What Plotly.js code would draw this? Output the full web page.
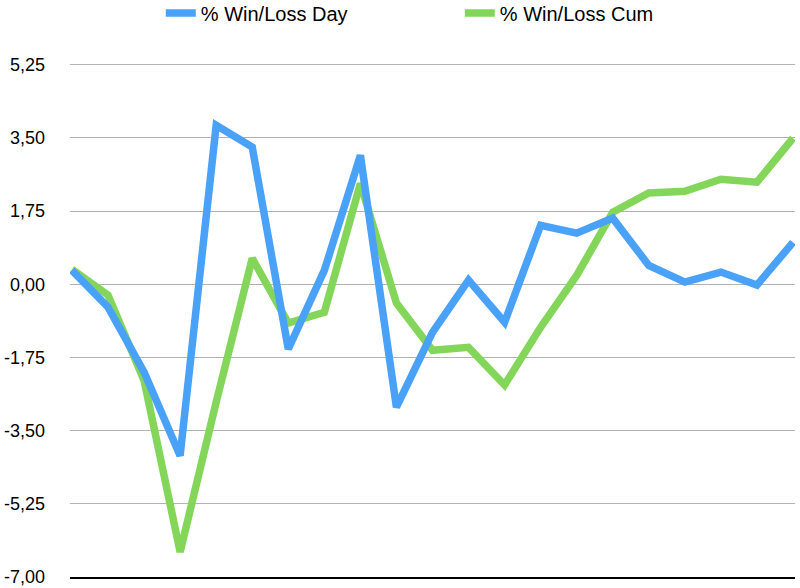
<!DOCTYPE html>
<html><head><meta charset="utf-8">
<script src="https://cdn.plot.ly/plotly-3.0.1.min.js"></script>
<style>html,body{margin:0;padding:0;background:#fff}</style>
</head><body><div id="chart" style="width:800px;height:588px"></div>
<script>
const days = [1,2,3,4,5,6,7,8,9,10,11,12,13,14,15,16,17,18,19,20,21];
const winLossDay = [0.33,-0.55,-2.1,-4.1,3.8,3.28,-1.55,0.33,3.08,-2.94,-1.15,0.1,-0.91,1.41,1.22,1.58,0.45,0.05,0.29,-0.02,1.0];
const winLossCum = [0.36,-0.26,-2.3,-6.4,-2.82,0.62,-0.93,-0.67,2.41,-0.45,-1.58,-1.51,-2.41,-1.03,0.21,1.72,2.18,2.22,2.51,2.44,3.49];
const tickVals = [-7,-5.25,-3.5,-1.75,0,1.75,3.5,5.25];
const tickText = ['-7,00','-5,25','-3,50','-1,75','0,00','1,75','3,50','5,25'];

const traces = [
  {x: days, y: winLossCum, name: '% Win/Loss Cum', type: 'scatter', mode: 'lines',
   line: {color: '#83d65a', width: 7.5}, legendrank: 2},
  {x: days, y: winLossDay, name: '% Win/Loss Day', type: 'scatter', mode: 'lines',
   line: {color: '#4aa1f8', width: 7.5}, legendrank: 1}
];
const layout = {
  width: 800, height: 588,
  margin: {l: 70, r: 5, t: 50, b: 11},
  paper_bgcolor: '#fff', plot_bgcolor: '#fff',
  font: {family: 'Liberation Sans, Arial, sans-serif', size: 18, color: '#000'},
  showlegend: true,
  legend: {orientation: 'h', xref: 'container', x: 0.201, xanchor: 'left',
           yref: 'container', y: 0.978, yanchor: 'middle',
           bgcolor: 'rgba(0,0,0,0)', font: {size: 20}, entrywidth: 254},
  xaxis: {range: [0.945, 21.056], showgrid: false, zeroline: false, showticklabels: false,
          ticks: '', showline: true, linecolor: '#000', linewidth: 2},
  yaxis: {range: [-7, 5.6], tickvals: tickVals, ticktext: tickText, showgrid: true,
          gridcolor: '#b3b3b3', gridwidth: 1, zeroline: false, showline: false, ticks: '',
          ticklabelstandoff: 24, tickfont: {size: 18}}
};
Plotly.newPlot('chart', traces, layout, {displayModeBar: false, staticPlot: true});
</script></body></html>
